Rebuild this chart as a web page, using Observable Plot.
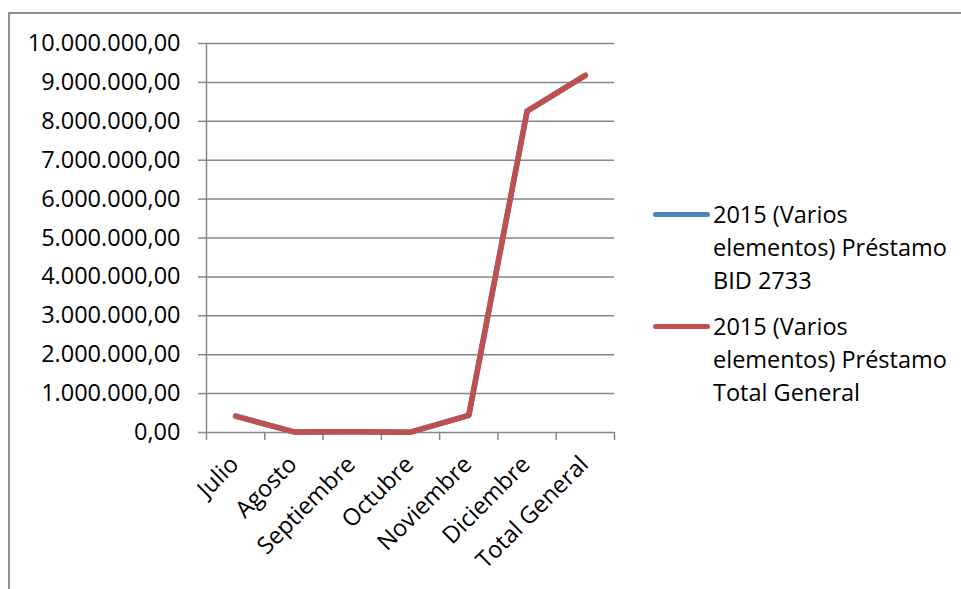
<!DOCTYPE html>
<html>
<head>
<meta charset="utf-8">
<script src="https://cdn.jsdelivr.net/npm/d3@7"></script>
<script src="https://cdn.jsdelivr.net/npm/@observablehq/plot@0.6"></script>
<style>
  html, body { margin: 0; padding: 0; background: #fff; overflow: hidden; }
  #wrap { position: relative; width: 961px; height: 589px; font-family: "Open Sans", sans-serif; }
  #frame { position: absolute; left: 8px; top: 12px; width: 1000px; height: 640px; border: 2px solid #8e8e8e; box-sizing: border-box; }
  #chart { position: absolute; left: 0; top: 0; }
  .leg { position: absolute; left: 653px; font-size: 23.5px; line-height: 33px; color: #000; white-space: nowrap; }
  .leg .sw { position: absolute; left: 0; top: 14px; width: 57px; height: 5px; border-radius: 2.5px; }
  .leg .tx { position: absolute; left: 60px; top: 0; }
</style>
</head>
<body>
<div id="wrap">
  <div id="frame"></div>
  <div id="chart"></div>
  <div id="legend"></div>
</div>
<script>
const categories = ["Julio", "Agosto", "Septiembre", "Octubre", "Noviembre", "Diciembre", "Total General"];
const seriesNames = ["2015 (Varios elementos) Préstamo BID 2733", "2015 (Varios elementos) Préstamo Total General"];
const seriesLegendLines = [
  ["2015 (Varios", "elementos) Préstamo", "BID 2733"],
  ["2015 (Varios", "elementos) Préstamo", "Total General"]
];
const bid2733 = [420000, 15000, 20000, 8000, 440000, 8260000, 9180000];
const totalGeneral = [420000, 15000, 20000, 8000, 440000, 8260000, 9180000];
const seriesColors = ["#4F81BD", "#C0504D"];
const yTicks = [0, 1000000, 2000000, 3000000, 4000000, 5000000, 6000000, 7000000, 8000000, 9000000, 10000000];

const locale = d3.formatLocale({decimal: ",", thousands: ".", grouping: [3], currency: ["", ""]});
const fmt = locale.format(",.2f");

const rows = [];
[bid2733, totalGeneral].forEach((vals, s) => {
  vals.forEach((v, i) => rows.push({series: seriesNames[s], idx: i, cat: categories[i], value: v}));
});
const catIdx = categories.map((c, i) => ({cat: c, idx: i}));
const boundaries = d3.range(categories.length + 1).map(i => i - 0.5);

const plot = Plot.plot({
  width: 961,
  height: 589,
  marginLeft: 206,
  marginRight: 347,
  marginTop: 43,
  marginBottom: 157,
  style: {fontFamily: "Open Sans, sans-serif", background: "transparent", overflow: "visible"},
  x: {type: "linear", domain: [-0.5, categories.length - 0.5]},
  y: {domain: [0, 10000000]},
  color: {domain: seriesNames, range: seriesColors},
  marks: [
    Plot.gridY(yTicks, {stroke: "#868686", strokeOpacity: 1, strokeWidth: 1.5}),
    Plot.ruleX([-0.5], {stroke: "#868686", strokeWidth: 1.5}),
    Plot.axisY(yTicks, {
      tickSize: 8, tickPadding: 18, stroke: "#868686", strokeWidth: 1.5,
      tickFormat: fmt, fontSize: 23.5, fill: "#000", label: null
    }),
    Plot.axisX(boundaries, {
      tickSize: 8, tickFormat: () => "", stroke: "#868686", strokeWidth: 1.5, label: null
    }),
    Plot.line(rows, {
      x: "idx", y: "value", z: "series", stroke: "series",
      strokeWidth: 5.5, strokeLinejoin: "round", strokeLinecap: "round"
    }),
    Plot.text(catIdx, {
      x: "idx", y: () => 0, text: "cat", rotate: -45, textAnchor: "end",
      dx: -1, dy: 28, fontSize: 23.5, fill: "#000"
    })
  ]
});
document.getElementById("chart").appendChild(plot);

const legend = document.getElementById("legend");
const legTops = [198, 310];
seriesNames.forEach((name, s) => {
  const d = document.createElement("div");
  d.className = "leg";
  d.style.top = legTops[s] + "px";
  const sw = document.createElement("div");
  sw.className = "sw";
  sw.style.background = seriesColors[s];
  const tx = document.createElement("div");
  tx.className = "tx";
  tx.innerHTML = seriesLegendLines[s].join("<br>");
  d.appendChild(sw);
  d.appendChild(tx);
  legend.appendChild(d);
});
</script>
</body>
</html>
